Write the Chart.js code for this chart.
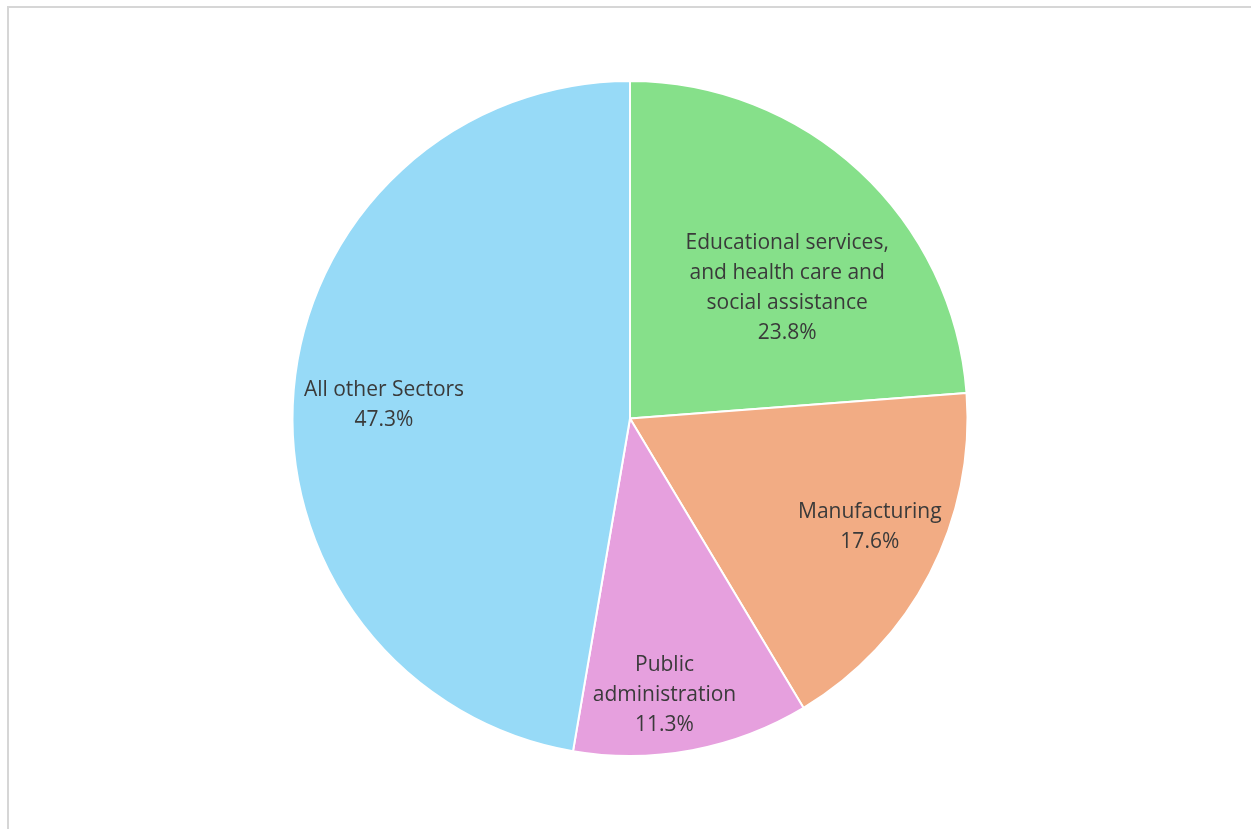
<!DOCTYPE html>
<html>
<head>
<meta charset="utf-8">
<script src="https://cdn.jsdelivr.net/npm/chart.js@4"></script>
<style>
  html, body { margin: 0; padding: 0; background: #fff; }
  #wrap { position: relative; width: 1251px; height: 829px; overflow: hidden; }
  #frame { position: absolute; left: 7px; top: 6px; width: 1260px; height: 840px;
           border-left: 2px solid #d6d6d6; border-top: 2px solid #d6d6d6; }
  #pie { position: absolute; left: 0; top: 0; }
</style>
</head>
<body>
<div id="wrap">
  <div id="frame"></div>
  <canvas id="pie" width="1251" height="829"></canvas>
</div>
<script>
// sectors, clockwise from 12 o'clock
const sectors = [
  ["Educational services,", "and health care and", "social assistance"],
  ["Manufacturing"],
  ["Public", "administration"],
  ["All other Sectors"]
];
const shares = [23.8, 17.6, 11.3, 47.3];
const sliceColors = ["#86e08a", "#f2ac84", "#e6a0de", "#97daf7"];

// draws the Excel-style labels inside the slices
const sliceLabels = {
  id: "sliceLabels",
  afterDatasetsDraw(chart, args, opts) {
    const c = chart.ctx;
    const meta = chart.getDatasetMeta(0);
    c.save();
    c.font = opts.size + "px " + opts.family;
    c.fillStyle = opts.color;
    c.textAlign = "center";
    c.textBaseline = "middle";
    meta.data.forEach((arc, i) => {
      const p = opts.place[i];
      const mid = (arc.startAngle + arc.endAngle) / 2 + p.da * Math.PI / 180;
      const r = arc.outerRadius * p.r;
      const cx = arc.x + Math.cos(mid) * r;
      const cy = arc.y + Math.sin(mid) * r;
      const lines = sectors[i].concat([shares[i].toFixed(1) + "%"]);
      const top = cy - (lines.length - 1) * opts.lineHeight / 2;
      lines.forEach((t, k) => c.fillText(t, cx, top + k * opts.lineHeight));
    });
    c.restore();
  }
};

new Chart(document.getElementById("pie"), {
  type: "pie",
  data: {
    labels: sectors,
    datasets: [{
      data: shares,
      backgroundColor: sliceColors,
      borderColor: "#ffffff",
      borderWidth: 2
    }]
  },
  options: {
    responsive: false,
    animation: false,
    layout: { padding: { top: 80, bottom: 72, left: 9, right: 0 } },
    plugins: {
      legend: { display: false },
      tooltip: { enabled: false },
      sliceLabels: {
        family: "'Open Sans', 'Noto Sans', sans-serif",
        size: 21,
        lineHeight: 30,
        color: "#3a3a3a",
        place: [
          { r: 0.605, da: 7.5 },
          { r: 0.78, da: -3 },
          { r: 0.825, da: 3.5 },
          { r: 0.73, da: -1.7 }
        ]
      }
    }
  },
  plugins: [sliceLabels]
});
</script>
</body>
</html>
